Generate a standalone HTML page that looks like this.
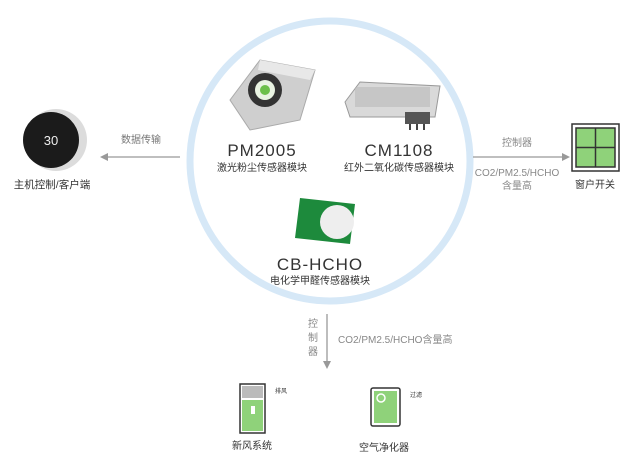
<!DOCTYPE html>
<html><head><meta charset="utf-8"><style>
body{margin:0;background:#fff;}
svg{display:block;font-family:"Liberation Sans","Noto Sans CJK SC",sans-serif;}
</style></head><body>
<svg width="640" height="465" viewBox="0 0 640 465" xmlns="http://www.w3.org/2000/svg">
<rect width="640" height="465" fill="#fff"/>
<circle cx="330" cy="161" r="140" fill="none" stroke="#d6e8f7" stroke-width="7"/>
<g transform="translate(230,60)">
<polygon points="0,40 30,0 85,10 70,60 20,70" fill="#cfcfcf" stroke="#aaa"/>
<polygon points="30,0 85,10 80,20 28,10" fill="#e8e8e8"/>
<circle cx="35" cy="30" r="17" fill="#333"/>
<circle cx="35" cy="30" r="10" fill="#e9f3e2"/>
<circle cx="35" cy="30" r="5" fill="#6cbf4a"/>
</g>
<text x="262" y="156" font-size="17" fill="#333" text-anchor="middle" letter-spacing="1">PM2005</text>
<text x="262" y="171" font-size="10" fill="#333" text-anchor="middle">激光粉尘传感器模块</text>
<g transform="translate(345,82)">
<polygon points="0,20 15,0 95,4 90,35 5,35" fill="#d9d9d9" stroke="#999"/>
<rect x="10" y="5" width="75" height="20" fill="#b9b9b9" opacity=".6"/>
<rect x="60" y="30" width="25" height="12" fill="#555"/>
<line x1="65" y1="42" x2="65" y2="48" stroke="#444" stroke-width="2"/>
<line x1="72" y1="42" x2="72" y2="48" stroke="#444" stroke-width="2"/>
<line x1="79" y1="42" x2="79" y2="48" stroke="#444" stroke-width="2"/>
</g>
<text x="399" y="156" font-size="17" fill="#333" text-anchor="middle" letter-spacing="1">CM1108</text>
<text x="399" y="171" font-size="10" fill="#333" text-anchor="middle">红外二氧化碳传感器模块</text>
<g transform="translate(295,198)">
<polygon points="5,0 60,6 55,46 0,40" fill="#1d8a3c"/>
<circle cx="42" cy="24" r="17" fill="#eee"/>
</g>
<text x="320" y="270" font-size="17" fill="#333" text-anchor="middle" letter-spacing="1">CB-HCHO</text>
<text x="320" y="284" font-size="10" fill="#333" text-anchor="middle">电化学甲醛传感器模块</text>
<circle cx="56" cy="140" r="31" fill="#dcdcdc"/>
<circle cx="51" cy="140" r="28" fill="#1b1b1b"/>
<text x="51" y="145" font-size="13" fill="#eee" text-anchor="middle">30</text>
<text x="52" y="188" font-size="10.5" fill="#333" text-anchor="middle">主机控制/客户端</text>
<line x1="106" y1="157" x2="180" y2="157" stroke="#999" stroke-width="1.3"/>
<polygon points="100,157 108,153 108,161" fill="#999"/>
<text x="141" y="143" font-size="10" fill="#777" text-anchor="middle">数据传输</text>
<line x1="473" y1="157" x2="565" y2="157" stroke="#999" stroke-width="1.3"/>
<polygon points="570,157 562,153 562,161" fill="#999"/>
<text x="517" y="146" font-size="10" fill="#888" text-anchor="middle">控制器</text>
<text x="517" y="176" font-size="10" fill="#888" text-anchor="middle">CO2/PM2.5/HCHO</text>
<text x="517" y="189" font-size="10" fill="#888" text-anchor="middle">含量高</text>
<rect x="572" y="124" width="47" height="47" fill="#fff" stroke="#333" stroke-width="1.5"/>
<rect x="576" y="128" width="39" height="39" fill="#8fd27a" stroke="#333" stroke-width="1.5"/>
<line x1="595.5" y1="128" x2="595.5" y2="167" stroke="#333" stroke-width="1.5"/>
<line x1="576" y1="147.5" x2="615" y2="147.5" stroke="#333" stroke-width="1.5"/>
<text x="595" y="188" font-size="10" fill="#333" text-anchor="middle">窗户开关</text>
<line x1="327" y1="314" x2="327" y2="362" stroke="#999" stroke-width="1.3"/>
<polygon points="327,369 323,361 331,361" fill="#999"/>
<text x="313" y="327" font-size="10" fill="#888" text-anchor="middle">控</text>
<text x="313" y="341" font-size="10" fill="#888" text-anchor="middle">制</text>
<text x="313" y="355" font-size="10" fill="#888" text-anchor="middle">器</text>
<text x="338" y="343" font-size="10" fill="#888">CO2/PM2.5/HCHO含量高</text>
<rect x="240" y="384" width="25" height="49" fill="#fff" stroke="#333" stroke-width="1.5"/>
<rect x="242" y="386" width="21" height="12" fill="#bbb"/>
<rect x="242" y="400" width="21" height="31" fill="#8fd27a"/>
<rect x="251" y="406" width="4" height="8" fill="#fff"/>
<text x="275" y="393" font-size="6" fill="#333">排风</text>
<text x="252" y="449" font-size="10" fill="#333" text-anchor="middle">新风系统</text>
<rect x="371" y="388" width="29" height="38" rx="2" fill="#fff" stroke="#333" stroke-width="1.5"/>
<rect x="374" y="391" width="23" height="32" fill="#8fd27a"/>
<circle cx="381" cy="398" r="4" fill="none" stroke="#fff" stroke-width="1.5"/>
<text x="410" y="397" font-size="6" fill="#333">过滤</text>
<text x="384" y="451" font-size="10" fill="#333" text-anchor="middle">空气净化器</text>
</svg>
</body></html>
